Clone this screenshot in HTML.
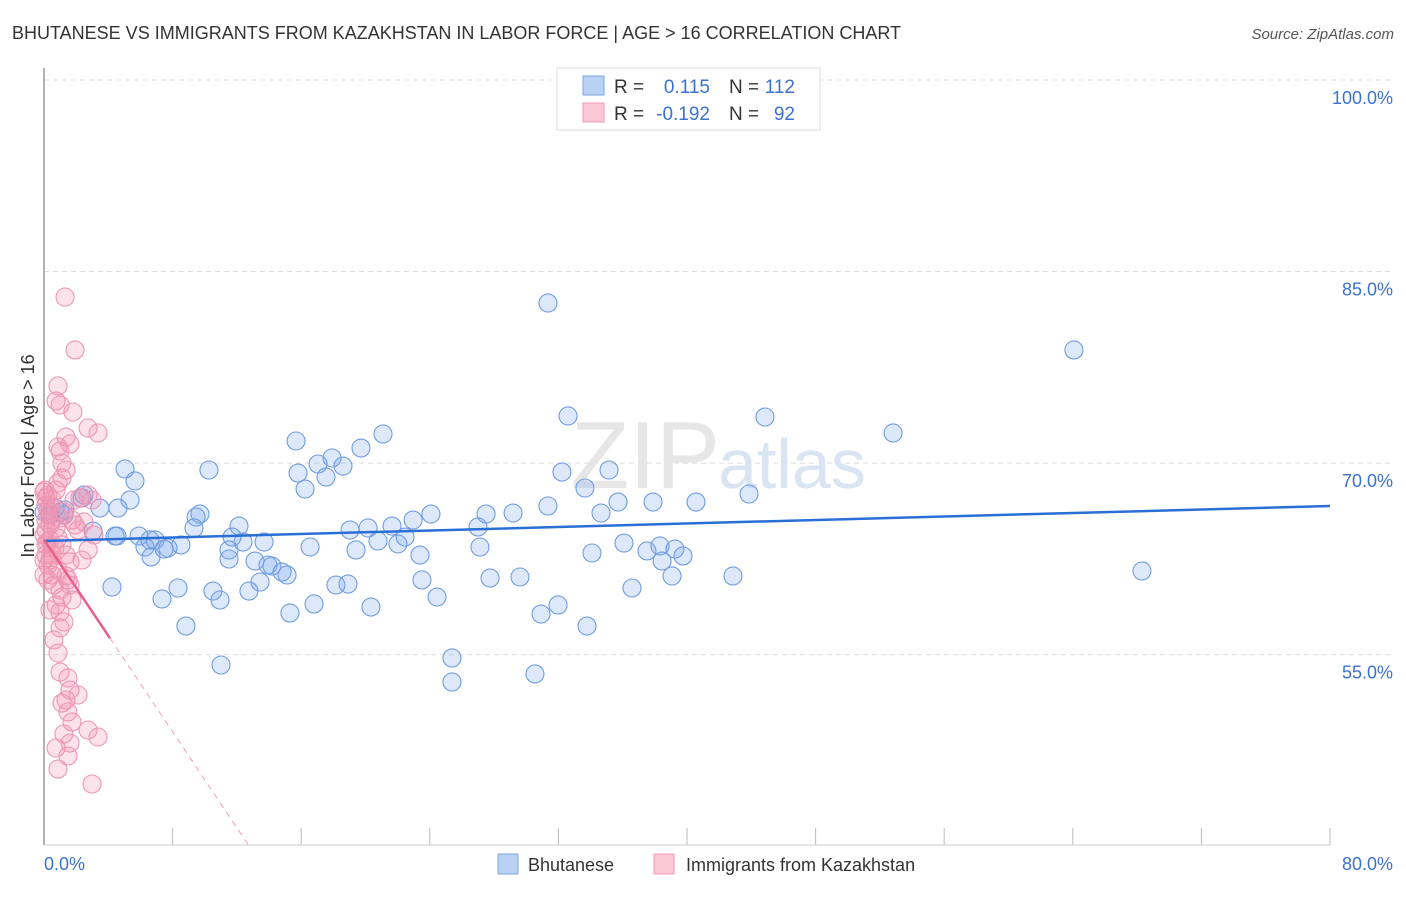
<!DOCTYPE html>
<html><head><meta charset="utf-8"><style>
body{margin:0;background:#fff;font-family:"Liberation Sans",sans-serif;}
svg text{font-family:"Liberation Sans",sans-serif;}
</style></head><body>
<svg id="chart" width="1406" height="892" xmlns="http://www.w3.org/2000/svg">
<text x="12" y="39" font-size="18" fill="#333">BHUTANESE VS IMMIGRANTS FROM KAZAKHSTAN IN LABOR FORCE | AGE &gt; 16 CORRELATION CHART</text>
<text x="1394" y="39" font-size="15" fill="#555" font-style="italic" text-anchor="end">Source: ZipAtlas.com</text>
<g id="grid"></g>
<text x="720" y="488" font-size="96" fill="#e6e6e6" text-anchor="end" font-family="Liberation Serif">ZIP</text>
<text x="718" y="488" font-size="70" fill="#dae5f4">atlas</text>
<line x1="44" y1="68" x2="44" y2="845" stroke="#999" stroke-width="1.5"/>
<line x1="44" y1="845" x2="1330" y2="845" stroke="#ccc" stroke-width="1"/>
<text transform="translate(34,456) rotate(-90)" font-size="18" fill="#333" text-anchor="middle">In Labor Force | Age &gt; 16</text>
<text x="44" y="870" font-size="18" fill="#3b72d0">0.0%</text>
<text x="1393" y="870" font-size="18" fill="#3b72d0" text-anchor="end">80.0%</text>
<g id="pts"></g>
<g id="lines"></g>
<g>
<rect x="557" y="68" width="263" height="62" fill="#fff" stroke="#ddd"/>
<rect x="583" y="76" width="21" height="19" fill="#b9d1f3" stroke="#7aa6e3"/>
<rect x="583" y="103" width="21" height="19" fill="#fbc6d5" stroke="#f09ab4"/>
<text x="614" y="93" font-size="19" fill="#333">R =</text><text x="710" y="93" font-size="19" fill="#3b72d0" text-anchor="end">0.115</text>
<text x="729" y="93" font-size="19" fill="#333">N =</text><text x="795" y="93" font-size="19" fill="#3b72d0" text-anchor="end">112</text>
<text x="614" y="120" font-size="19" fill="#333">R =</text><text x="710" y="120" font-size="19" fill="#3b72d0" text-anchor="end">-0.192</text>
<text x="729" y="120" font-size="19" fill="#333">N =</text><text x="795" y="120" font-size="19" fill="#3b72d0" text-anchor="end">92</text>
</g>
<rect x="498" y="854" width="20" height="20" fill="#b9d1f3" stroke="#7aa6e3"/>
<text x="528" y="871" font-size="18" fill="#333">Bhutanese</text>
<rect x="654" y="854" width="20" height="20" fill="#fbc6d5" stroke="#f09ab4"/>
<text x="686" y="871" font-size="18" fill="#333">Immigrants from Kazakhstan</text>
</svg>
<script>
const yTicks=[100,85,70,55];
const yTickLabels=["100.0%","85.0%","70.0%","55.0%"];
const xTickVals=[0,8,16,24,32,40,48,56,64,72,80];
const blueX=[31.35,64.07,32.6,44.85,52.82,21.09,15.68,19.72,17.92,18.6,17.05,15.8,17.54,10.26,5.04,32.22,35.15,16.24,33.65,5.66,5.35,2.49,2.36,3.48,1.0,1.24,4.6,9.7,9.46,31.35,35.71,37.89,40.56,43.86,34.65,29.18,27.5,24.07,22.96,21.65,20.16,19.04,12.13,9.33,4.54,4.42,3.05,5.91,6.91,8.52,6.28,7.71,7.47,6.66,11.51,12.38,11.7,13.69,16.55,19.41,20.78,22.02,22.46,23.39,27.0,27.12,36.08,37.51,38.32,39.25,39.75,38.45,34.09,11.51,13.13,13.93,14.18,14.81,15.12,13.44,18.16,18.91,23.51,27.75,29.61,39.07,42.86,4.23,8.34,10.51,7.34,10.95,12.75,16.8,15.3,20.34,24.45,31.98,30.92,33.78,8.83,36.58,11.01,25.38,25.38,30.54,68.3,6.59,0,0.37,0.68,1.31];
const blueY=[82.54,78.86,73.69,73.61,72.36,72.28,71.73,71.18,70.4,69.77,69.93,69.22,68.91,69.46,69.54,69.3,69.46,67.97,68.05,68.6,67.11,67.5,67.27,66.48,66.17,65.94,66.48,66.01,65.78,66.64,66.95,66.95,66.95,67.58,66.09,66.09,66.01,66.01,65.54,65.07,64.92,64.76,65.07,64.92,64.29,64.29,64.68,64.29,63.98,63.59,63.43,63.35,63.27,62.65,63.2,63.82,64.21,63.82,63.43,63.2,63.9,63.67,64.21,62.8,65.0,63.43,63.74,63.12,63.51,63.27,62.73,62.33,62.96,62.49,62.33,62.02,61.94,61.47,61.24,60.69,60.45,60.53,60.85,61.0,61.08,61.16,61.16,60.3,60.22,59.98,59.36,59.28,59.98,58.97,58.26,58.73,59.51,58.89,58.18,57.24,57.24,60.22,54.19,54.74,52.86,53.49,61.55,63.98,66.17,65.94,66.48,66.33];
const pinkX=[1.31,1.93,0.87,0.75,1.0,1.8,1.37,3.36,2.74,1.62,0.87,1.0,1.12,1.37,1.12,0.87,0.75,0.25,0.5,0.12,0.25,0.5,1.93,1.74,0.12,0.37,0.68,1.12,2.74,0.12,0.37,0.87,1.62,1.37,1.49,2.36,1.0,1.12,0.75,1.0,1.24,1.0,0.87,1.0,1.49,1.62,1.37,2.12,1.12,1.49,1.74,1.24,2.74,3.36,1.62,0.75,1.49,0.87,2.99,1.87,2.24,2.74,2.99,0,0.12,0.25,0.37,0,0.12,0.25,0.5,0.62,0,0.12,0.37,0.75,0.87,1.24,1.0,1.37,1.62,1.74,0.62,0,0.25,0.37,0.06,0.19,0.5,2.12,2.49,3.11];
const pinkY=[83.0,78.86,76.04,74.86,74.55,74.0,72.04,72.36,72.75,71.5,71.26,70.95,70.01,69.46,68.83,68.44,67.89,67.5,67.11,66.72,66.33,65.54,65.15,65.54,64.76,63.98,63.35,63.59,63.2,62.8,62.41,61.63,62.26,61.16,60.85,62.41,60.06,59.51,58.89,58.34,57.56,57.09,55.13,53.64,53.17,52.23,51.45,51.84,51.21,50.51,49.73,48.79,49.1,48.55,48.08,47.69,47.06,46.04,44.87,67.11,67.27,67.5,67.11,67.74,67.27,65.94,65.15,64.37,63.59,62.02,61.24,60.45,61.24,65.54,66.72,64.92,64.13,66.17,65.7,62.8,60.45,59.28,56.15,62.41,60.85,58.5,67.89,63.82,62.8,64.76,65.39,64.37];
const blueTrend=[63.9,66.64];
const pinkTrend=[64.0,-1.88];
const NS="http://www.w3.org/2000/svg";
const xs=v=>44+v/80*1286, ys=v=>80+(100-v)*12.77;
function mk(t,a,p){const e=document.createElementNS(NS,t);for(const k in a)e.setAttribute(k,a[k]);p.appendChild(e);return e;}
const grid=document.getElementById('grid'),pts=document.getElementById('pts'),lines=document.getElementById('lines');
yTicks.forEach((v,i)=>{
 const l=mk('line',{x1:44,x2:1394,y1:ys(v),y2:ys(v),stroke:'#dcdcdc','stroke-dasharray':'5,4'},grid);
 
 
 const t=mk('text',{x:1393,y:ys(v)+24,'font-size':18,fill:'#3b72d0','text-anchor':'end'},grid);
 t.textContent=yTickLabels[i];
 
 
});
xTickVals.forEach(v=>{
 const l=mk('line',{x1:xs(v),x2:xs(v),y1:828,y2:845,stroke:'#bbb'},grid);
 
 
});
blueX.forEach((v,i)=>{
 const c=mk('circle',{cx:xs(v),cy:ys(blueY[i]),r:9,fill:'rgba(120,165,235,0.25)',stroke:'#6f9ddf','stroke-width':1.1},pts);
 
 
});
pinkX.forEach((v,i)=>{
 const c=mk('circle',{cx:xs(v),cy:ys(pinkY[i]),r:9,fill:'rgba(242,145,175,0.25)',stroke:'#ec97b3','stroke-width':1.1},pts);
 
 
});
const bl=mk('line',{x1:xs(0),y1:ys(blueTrend[0]),x2:xs(80),y2:ys(blueTrend[1]),stroke:'#2a6fd6','stroke-width':2.5},lines);


const pf=x=>pinkTrend[0]+pinkTrend[1]*x;
const pl=mk('line',{x1:xs(0),y1:ys(pf(0)),x2:xs(4.1),y2:ys(pf(4.1)),stroke:'#e8608a','stroke-width':2.5},lines);


const xe=(pinkTrend[0]-40)/-pinkTrend[1];
const pd=mk('line',{x1:xs(4.1),y1:ys(pf(4.1)),x2:xs(xe),y2:ys(40),stroke:'#eda0b8','stroke-width':1,'stroke-dasharray':'6,5'},lines);


</script>
</body></html>
